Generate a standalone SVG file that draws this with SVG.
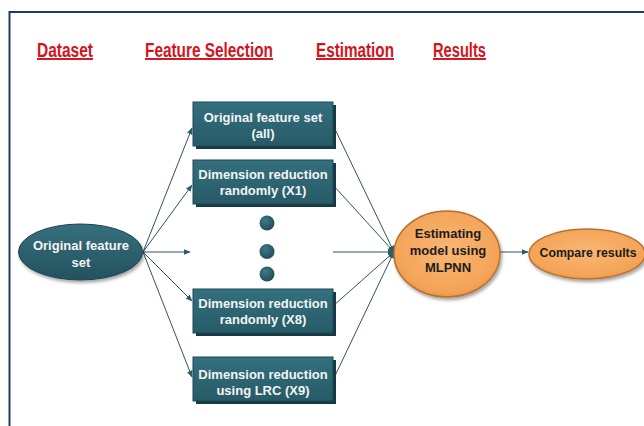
<svg xmlns="http://www.w3.org/2000/svg" width="644" height="426" viewBox="0 0 644 426">
  <style>
    .hdr{font-family:"Liberation Sans",Arial,sans-serif;font-weight:bold;font-size:19.5px;fill:#d3141c;text-decoration:underline;text-anchor:start}
    .wt{font-family:"Liberation Sans",Arial,sans-serif;font-weight:bold;font-size:13px;fill:#f4f4f4;text-anchor:middle}
    .dk{font-family:"Liberation Sans",Arial,sans-serif;font-weight:bold;font-size:13px;fill:#1c1c1c;text-anchor:middle}
    .ln{stroke:#33525d;stroke-width:1;fill:none}
    .arr{marker-end:url(#ah)}
    .box{fill:url(#gbox);stroke:#1d4854;stroke-width:1}
    .boxsh{fill:#163a44}
    .dot{fill:url(#gdot)}
  </style>
  <defs>
    <marker id="ah" viewBox="0 0 10 10" refX="9" refY="5" markerWidth="7" markerHeight="7" markerUnits="userSpaceOnUse" orient="auto">
      <path d="M0,1 L10,5 L0,9 z" fill="#2a5d6a"/>
    </marker>
    <linearGradient id="gbox" x1="0" y1="0" x2="0" y2="1">
      <stop offset="0" stop-color="#34707e"/>
      <stop offset="1" stop-color="#275a67"/>
    </linearGradient>
    <linearGradient id="gteal" x1="0" y1="0" x2="0" y2="1">
      <stop offset="0" stop-color="#36707e"/>
      <stop offset="1" stop-color="#23525e"/>
    </linearGradient>
    <radialGradient id="gdot" cx="0.4" cy="0.35" r="0.7">
      <stop offset="0" stop-color="#3f7a88"/>
      <stop offset="1" stop-color="#1f4a55"/>
    </radialGradient>
    <radialGradient id="gor" cx="0.5" cy="0.45" r="0.6">
      <stop offset="0" stop-color="#f9b674"/>
      <stop offset="0.8" stop-color="#f4a458"/>
      <stop offset="1" stop-color="#e38f42"/>
    </radialGradient>
    <filter id="sh" x="-20%" y="-20%" width="140%" height="150%">
      <feDropShadow dx="1.5" dy="2.5" stdDeviation="1.5" flood-color="#000" flood-opacity="0.35"/>
    </filter>
  </defs>

  <rect x="0" y="0" width="644" height="426" fill="#ffffff"/>
  <path d="M644,12 H9.5 V426" fill="none" stroke="#203a68" stroke-width="2"/>

  <g id="headers">
    <text class="hdr" x="37" y="57" textLength="56" lengthAdjust="spacingAndGlyphs">Dataset</text>
    <text class="hdr" x="145" y="57" textLength="128" lengthAdjust="spacingAndGlyphs">Feature Selection</text>
    <text class="hdr" x="316" y="57" textLength="78" lengthAdjust="spacingAndGlyphs">Estimation</text>
    <text class="hdr" x="433" y="57" textLength="53" lengthAdjust="spacingAndGlyphs">Results</text>
  </g>

  <g id="connectors">
    <line class="ln arr" x1="143" y1="252" x2="192" y2="128"/>
    <line class="ln arr" x1="143" y1="252" x2="192" y2="185"/>
    <line class="ln arr" x1="143" y1="252" x2="190" y2="252"/>
    <line class="ln arr" x1="143" y1="252" x2="192" y2="301"/>
    <line class="ln arr" x1="143" y1="252" x2="192" y2="377"/>
    <line class="ln arr" x1="333" y1="125" x2="394" y2="252"/>
    <line class="ln arr" x1="333" y1="185" x2="394" y2="252"/>
    <line class="ln arr" x1="333" y1="252" x2="394" y2="252"/>
    <line class="ln arr" x1="333" y1="306" x2="394" y2="252"/>
    <line class="ln arr" x1="333" y1="380" x2="394" y2="252"/>
    <line class="ln arr" x1="500" y1="252" x2="528" y2="252"/>
  </g>

  <g id="dataset">
    <ellipse cx="80.5" cy="252" rx="62" ry="28" fill="url(#gteal)" stroke="#1b414b" stroke-width="1" filter="url(#sh)"/>
    <text class="wt" x="81" y="250">Original feature</text>
    <text class="wt" x="81" y="267">set</text>
  </g>

  <g id="box-all">
    <rect class="boxsh" x="196" y="105" width="140" height="44"/>
    <rect class="box" x="193" y="102" width="140" height="44"/>
    <text class="wt" x="263" y="122">Original feature set</text>
    <text class="wt" x="263" y="138">(all)</text>
  </g>
  <g id="box-x1">
    <rect class="boxsh" x="196" y="163" width="140" height="44"/>
    <rect class="box" x="193" y="160" width="140" height="44"/>
    <text class="wt" x="263" y="179">Dimension reduction</text>
    <text class="wt" x="263" y="195">randomly (X1)</text>
  </g>
  <g id="dots">
    <circle class="dot" cx="267" cy="223" r="7.5"/>
    <circle class="dot" cx="267" cy="251.5" r="7.5"/>
    <circle class="dot" cx="267" cy="274" r="7.5"/>
  </g>
  <g id="box-x8">
    <rect class="boxsh" x="196" y="292" width="140" height="44"/>
    <rect class="box" x="193" y="289" width="140" height="44"/>
    <text class="wt" x="263" y="308">Dimension reduction</text>
    <text class="wt" x="263" y="324">randomly (X8)</text>
  </g>
  <g id="box-x9">
    <rect class="boxsh" x="196" y="360" width="140" height="44"/>
    <rect class="box" x="193" y="357" width="140" height="44"/>
    <text class="wt" x="263" y="379">Dimension reduction</text>
    <text class="wt" x="263" y="395">using LRC (X9)</text>
  </g>

  <g id="estimation">
    <ellipse cx="447" cy="254" rx="53" ry="43" fill="url(#gor)" stroke="#b8712f" stroke-width="1.5" filter="url(#sh)"/>
    <text class="dk" x="448" y="238">Estimating</text>
    <text class="dk" x="448" y="255">model using</text>
    <text class="dk" x="448" y="272">MLPNN</text>
  </g>

  <g id="results">
    <ellipse cx="587" cy="254" rx="58" ry="25" fill="url(#gor)" stroke="#b8712f" stroke-width="1.5" filter="url(#sh)"/>
    <text class="dk" x="588" y="257" textLength="97" lengthAdjust="spacingAndGlyphs">Compare results</text>
  </g>
</svg>
